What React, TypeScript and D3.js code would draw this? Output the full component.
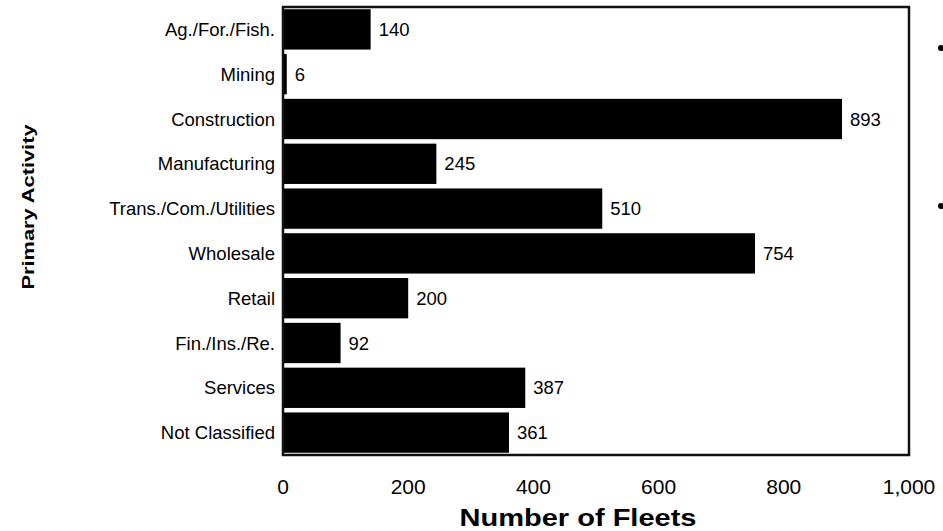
import React from "react";
import * as d3 from "d3";

const categories = [
  "Ag./For./Fish.",
  "Mining",
  "Construction",
  "Manufacturing",
  "Trans./Com./Utilities",
  "Wholesale",
  "Retail",
  "Fin./Ins./Re.",
  "Services",
  "Not Classified",
];
const values = [140, 6, 893, 245, 510, 754, 200, 92, 387, 361];
const xTicks = [0, 200, 400, 600, 800, 1000];

export default function App() {
  const W = 943, H = 531;
  const left = 283, right = 909, top = 7, bottom = 455;
  const x = d3.scaleLinear().domain([0, 1000]).range([left, right]);
  const y = d3.scaleBand<string>().domain(categories).range([top, bottom]).paddingInner(0.1).paddingOuter(0.05);
  const fmt = d3.format(",");
  const font = "'Liberation Sans', Arial, sans-serif";
  return (
    <svg width={W} height={H} style={{ position: "absolute", left: 0, top: 0 }} fontFamily={font}>
      <rect x={0} y={0} width={W} height={H} fill="#fff" />
      {categories.map((c, i) => (
        <g key={c}>
          <rect x={x(0)} y={y(c)!} width={x(values[i]) - x(0)} height={y.bandwidth()} fill="#000" />
          <text x={x(values[i]) + 8} y={y(c)! + y.bandwidth() / 2} dy="0.36em" fontSize={18.5} fill="#000">
            {values[i]}
          </text>
          <text x={left - 8} y={y(c)! + y.bandwidth() / 2} dy="0.36em" fontSize={18.5} textAnchor="end" fill="#000">
            {c}
          </text>
        </g>
      ))}
      <rect x={left} y={top} width={right - left} height={bottom - top} fill="none" stroke="#111" strokeWidth={2.5} />
      {xTicks.map((t) => (
        <text key={t} x={x(t)} y={494} fontSize={21} textAnchor="middle" fill="#000">
          {fmt(t)}
        </text>
      ))}
      <text
        x={578}
        y={526}
        fontSize={23}
        fontWeight="bold"
        textAnchor="middle"
        textLength={237}
        lengthAdjust="spacingAndGlyphs"
        fill="#000"
      >
        Number of Fleets
      </text>
      <text
        transform={`translate(34, 207) rotate(-90)`}
        fontSize={17}
        fontWeight="bold"
        textAnchor="middle"
        textLength={165}
        lengthAdjust="spacingAndGlyphs"
        fill="#000"
      >
        Primary Activity
      </text>
      <circle cx={941} cy={48} r={3} fill="#000" />
      <circle cx={941} cy={206} r={3} fill="#000" />
    </svg>
  );
}
